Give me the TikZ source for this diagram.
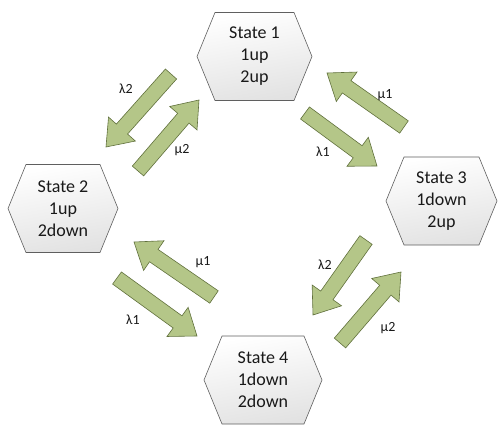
\documentclass[tikz,border=0pt]{standalone}
\usepackage{fontspec}
\setmainfont{Carlito}
\usetikzlibrary{calc}

\definecolor{arrowfill}{RGB}{180,198,136}
\definecolor{arrowline}{RGB}{96,112,60}
\definecolor{hexline}{RGB}{95,95,95}
\definecolor{hexlow}{RGB}{226,226,226}
\definecolor{inktext}{RGB}{25,25,25}

\tikzset{
  hexagon/.style={draw=hexline, line width=0.6pt, top color=white, bottom color=hexlow, shading angle=10},
  statetext/.style={align=center, text=inktext, font=\fontsize{18}{22}\selectfont, inner sep=0pt},
  flow/.style={draw=arrowline, fill=arrowfill, line width=0.6pt, line join=miter},
  ratelabel/.style={text=inktext, font=\fontsize{14}{16}\selectfont, inner sep=0pt},
}

% state hexagon: name, centre x, centre y, width, text
\newcommand\statehex[5]{%
  \begin{scope}[shift={(#2,#3)}]
    \path[hexagon] (-#4/2,0) -- (-#4/2+18,-44) -- (#4/2-18,-44) -- (#4/2,0)
      -- (#4/2-18,44) -- (-#4/2+18,44) -- cycle;
  \end{scope}
  \node[statetext] (#1) at (#2,#3) {#5};}

% block arrow from tail coordinate #1 to tip coordinate #2
\newcommand\flowarrow[2]{%
  \draw[flow]
    ($(#1)!7.5pt!90:(#2)$)
    -- ($(#2)!24pt!(#1)!7.5pt!-90:(#1)$)
    -- ($(#2)!24pt!(#1)!18pt!-90:(#1)$)
    -- (#2)
    -- ($(#2)!24pt!(#1)!18pt!90:(#1)$)
    -- ($(#2)!24pt!(#1)!7.5pt!90:(#1)$)
    -- ($(#1)!7.5pt!-90:(#2)$)
    -- cycle;}

\begin{document}
\begin{tikzpicture}[x=1pt, y=-1pt]
  \useasboundingbox (0,0) rectangle (499,428);

  % states
  \statehex{s1}{254.5}{56.5}{115}{State 1\\1up\\2up}
  \statehex{s2}{63}{208.5}{110}{State 2\\1up\\2down}
  \statehex{s3}{441.5}{201}{111}{State 3\\1down\\2up}
  \statehex{s4}{263}{380}{118}{State 4\\1down\\2down}

  % transition arrow ends
  \coordinate (t12) at (171,74);   \coordinate (h12) at (106,147);
  \coordinate (t21) at (138,171);  \coordinate (h21) at (199,100);
  \coordinate (t31) at (404,127);  \coordinate (h31) at (327,73);
  \coordinate (t13) at (305,113);  \coordinate (h13) at (377,166);
  \coordinate (t42) at (214,297);  \coordinate (h42) at (134,242);
  \coordinate (t24) at (117,278);  \coordinate (h24) at (197,336);
  \coordinate (t34) at (366,240);  \coordinate (h34) at (313,315);
  \coordinate (t43) at (340,343);  \coordinate (h43) at (401,272);

  \flowarrow{t12}{h12}
  \flowarrow{t21}{h21}
  \flowarrow{t31}{h31}
  \flowarrow{t13}{h13}
  \flowarrow{t42}{h42}
  \flowarrow{t24}{h24}
  \flowarrow{t34}{h34}
  \flowarrow{t43}{h43}

  % rates
  \node[ratelabel] (l12) at (126,89)  {λ2};
  \node[ratelabel] (l21) at (182,150) {μ2};
  \node[ratelabel] (l31) at (385,95)  {μ1};
  \node[ratelabel] (l13) at (323,152) {λ1};
  \node[ratelabel] (l42) at (203,262) {μ1};
  \node[ratelabel] (l24) at (133,320) {λ1};
  \node[ratelabel] (l34) at (325,265) {λ2};
  \node[ratelabel] (l43) at (388,328) {μ2};
\end{tikzpicture}
\end{document}
